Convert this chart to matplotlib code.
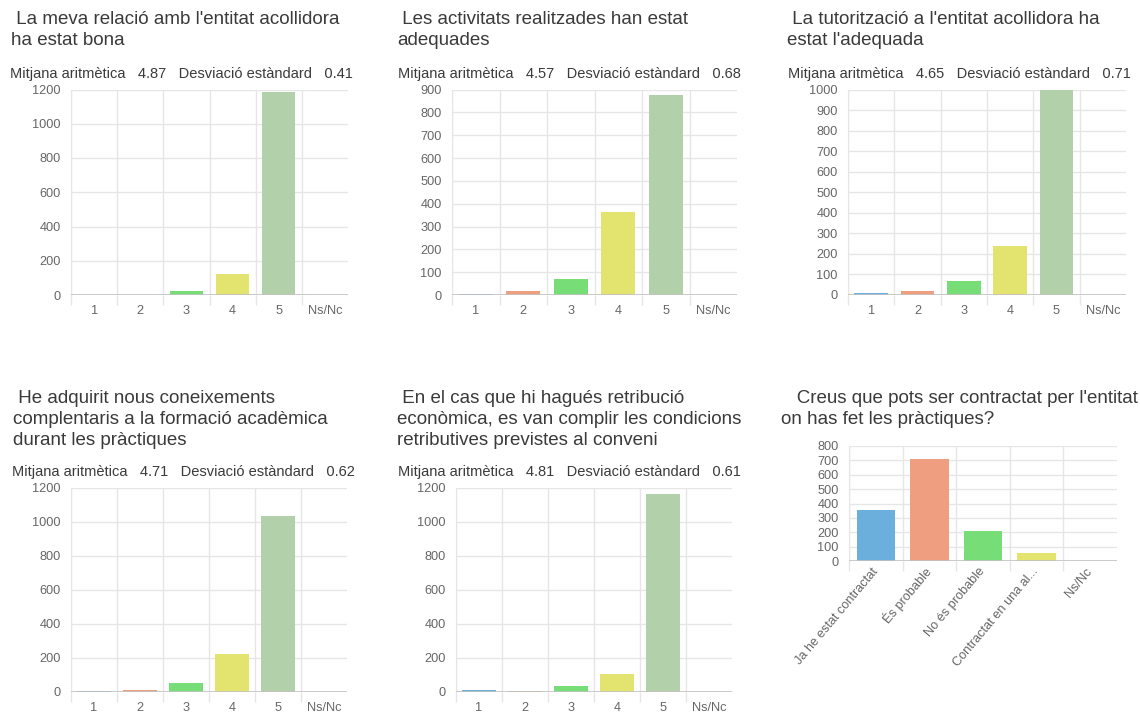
import matplotlib
matplotlib.use('Agg')
import matplotlib.pyplot as plt
import numpy as np

plt.rcParams['font.family'] = ['Liberation Sans', 'DejaVu Sans']

W, H = 1140, 715

# answer scale shared by the first five questions
scale_cats = ['1', '2', '3', '4', '5', 'Ns/Nc']
scale_colors = ['#6bafdc', '#ef9e80', '#77dd77', '#e3e36f', '#b2d1aa', '#c9b8a8']

titles = [
    " La meva relació amb l'entitat acollidora\nha estat bona",
    " Les activitats realitzades han estat\nadequades",
    " La tutorització a l'entitat acollidora ha\nestat l'adequada",
    " He adquirit nous coneixements\ncomplentaris a la formació acadèmica\ndurant les pràctiques",
    " En el cas que hi hagués retribució\neconòmica, es van complir les condicions\nretributives previstes al conveni",
    "   Creus que pots ser contractat per l'entitat\non has fet les pràctiques?",
]
means = [4.87, 4.57, 4.65, 4.71, 4.81]
stds = [0.41, 0.68, 0.71, 0.62, 0.61]

relacio = [1, 2, 23, 121, 1184, 0]
activitats = [3, 17, 70, 363, 876, 0]
tutoritzacio = [5, 18, 65, 236, 1000, 0]
coneixements = [3, 14, 53, 222, 1033, 0]
retribucio = [14, 4, 33, 104, 1167, 0]

contracte_cats = ['Ja he estat contractat', 'És probable', 'No és probable',
                  'Contractat en una al...', 'Ns/Nc']
contracte = [352, 709, 207, 54, 0]

y_max = [1200, 900, 1000, 1200, 1200, 800]
y_step = [200, 100, 100, 200, 200, 100]

GRID = '#e6e6e6'
ZERO = '#c2c2c2'
TICK = '#666666'
TEXT = '#3a3a3a'

fig = plt.figure(figsize=(W / 100, H / 100), dpi=100)


def px_axes(left, top, right, bottom):
    return fig.add_axes([left / W, 1 - bottom / H, (right - left) / W, (bottom - top) / H])


def ftext(x, y, s, **kw):
    fig.text(x / W, 1 - y / H, s, **kw)


def draw_bars(ax, cats, vals, colors, ymax, step, rotate=False):
    x = np.arange(len(cats))
    ax.bar(x, vals, width=0.72, color=colors, zorder=2)
    ax.set_xlim(-0.5, len(cats) - 0.5)
    ax.set_ylim(0, ymax)
    ax.set_yticks(np.arange(0, ymax + 1, step))
    ax.set_xticks(x)
    if rotate:
        ax.set_xticklabels(cats, rotation=50, ha='right', va='center',
                           rotation_mode='anchor')
    else:
        ax.set_xticklabels(cats)
    ax.set_xticks(x - 0.5, minor=True)
    ax.grid(True, which='minor', axis='x', color=GRID, lw=1)
    ax.grid(True, which='major', axis='y', color=GRID, lw=1)
    ax.tick_params(axis='x', which='major', length=0, pad=6 if rotate else 7.5,
                   labelsize=9.2, labelcolor=TICK)
    ax.tick_params(axis='x', which='minor', length=7.5, width=1, color=GRID)
    ax.tick_params(axis='y', length=0, pad=7.5, labelsize=9.2, labelcolor=TICK)
    for s in ['top', 'right', 'bottom']:
        ax.spines[s].set_visible(False)
    ax.spines['left'].set_color(GRID)
    ax.axhline(0, color=ZERO, lw=1.2, zorder=3)
    ax.set_axisbelow(True)


boxes = [
    (71, 89.5, 348, 295),
    (452, 89.5, 737, 295),
    (848, 90, 1126, 294.5),
    (71, 488, 347, 692),
    (456, 488, 732, 692),
    (849, 446, 1117, 561),
]
title_pos = [(11, 11.5), (397, 11.5), (787, 11.5), (13, 390), (397, 390), (781, 390)]
stats_pos = [(10, 78), (398, 78), (788, 78), (12, 476), (398, 476)]

series = [relacio, activitats, tutoritzacio, coneixements, retribucio]

for i, vals in enumerate(series):
    ax = px_axes(*boxes[i])
    draw_bars(ax, scale_cats, vals, scale_colors, y_max[i], y_step[i])
    ftext(*title_pos[i], titles[i], fontsize=13.5, color=TEXT, va='top', ha='left',
          linespacing=1.3)
    ftext(*stats_pos[i],
          'Mitjana aritmètica   %.2f   Desviació estàndard   %.2f' % (means[i], stds[i]),
          fontsize=10.5, color=TEXT, va='baseline', ha='left')

ax6 = px_axes(*boxes[5])
draw_bars(ax6, contracte_cats, contracte, scale_colors[:5], y_max[5], y_step[5], rotate=True)
ftext(*title_pos[5], titles[5], fontsize=13.5, color=TEXT, va='top', ha='left',
      linespacing=1.3)

fig.savefig('out.png', dpi=100, facecolor='white')
